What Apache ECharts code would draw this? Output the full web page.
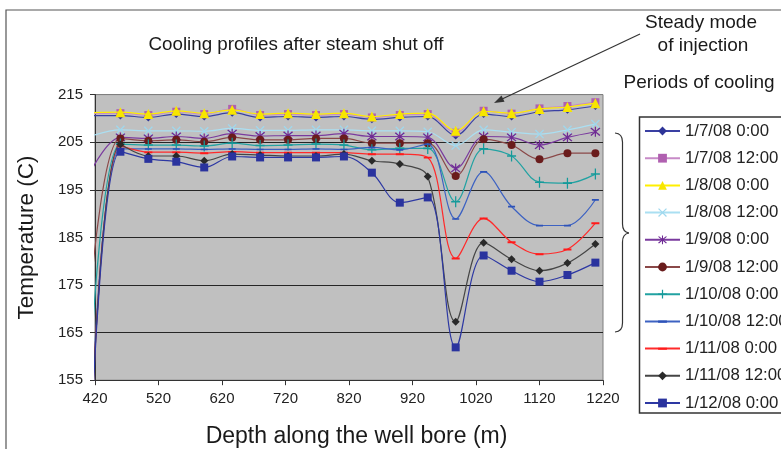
<!DOCTYPE html>
<html>
<head>
<meta charset="utf-8">
<script src="https://cdn.jsdelivr.net/npm/echarts@6/dist/echarts.min.js"></script>
<style>
html,body{margin:0;padding:0;background:#fff;}
#c{width:781px;height:449px;}
</style>
</head>
<body>
<div id="c"></div>
<script>
var depth = [416, 460, 504, 548, 592, 636, 680, 724, 768, 812, 856, 900, 944, 988, 1032, 1076, 1120, 1164, 1208];
var seriesNames = ['1/7/08 0:00','1/7/08 12:00','1/8/08 0:00','1/8/08 12:00','1/9/08 0:00','1/9/08 12:00','1/10/08 0:00','1/10/08 12:00','1/11/08 0:00','1/11/08 12:00','1/12/08 0:00'];
var t_0107_00 = [210.6, 210.6, 210.2, 210.9, 210.4, 211.2, 210.2, 210.4, 210.2, 210.4, 209.8, 210.2, 210.4, 206.4, 210.9, 210.4, 211.4, 211.8, 212.6];
var t_0107_12 = [211.0, 211.1, 210.7, 211.4, 210.9, 212.0, 210.7, 210.9, 210.7, 210.9, 210.2, 210.7, 210.9, 207.0, 211.6, 211.0, 212.1, 212.6, 213.4];
var t_0108_00 = [211.2, 211.3, 210.9, 211.6, 211.1, 211.8, 210.9, 211.1, 210.9, 211.1, 210.4, 210.9, 211.1, 207.4, 211.5, 211.1, 212.0, 212.4, 213.2];
var t_0108_12 = [206.4, 207.6, 207.4, 207.4, 207.3, 207.9, 207.5, 207.5, 207.6, 207.6, 207.4, 207.4, 207.2, 204.3, 207.6, 207.1, 206.7, 207.6, 208.8];
var t_0109_00 = [199.5, 206.0, 205.8, 206.2, 205.8, 206.8, 206.3, 206.4, 206.4, 206.8, 206.2, 206.2, 206.0, 199.5, 206.2, 206.0, 204.4, 206.0, 207.2];
var t_0109_12 = [177.5, 205.8, 205.3, 205.5, 205.1, 206.0, 205.5, 205.5, 205.8, 205.8, 204.8, 204.8, 204.8, 197.9, 205.6, 204.4, 201.4, 202.7, 202.7];
var t_0110_00 = [165.0, 204.6, 204.4, 204.4, 204.2, 204.8, 204.3, 204.4, 204.6, 204.4, 203.4, 203.7, 203.7, 192.5, 203.6, 202.1, 196.6, 196.4, 198.3];
var t_0110_12 = [152.0, 203.6, 203.6, 203.6, 203.5, 203.6, 203.5, 203.5, 203.6, 203.5, 203.9, 203.4, 204.6, 188.9, 198.8, 191.5, 187.5, 187.5, 192.9];
var t_0111_00 = [150.0, 204.2, 202.9, 202.9, 202.7, 203.0, 202.8, 202.8, 202.8, 202.8, 202.5, 202.5, 201.8, 180.6, 189.0, 184.0, 181.5, 182.5, 188.0];
var t_0111_12 = [150.0, 204.5, 202.1, 202.1, 201.1, 202.5, 202.3, 202.1, 202.1, 202.5, 201.1, 200.4, 197.8, 167.3, 183.9, 180.4, 178.0, 179.6, 183.6];
var t_0112_00 = [149.0, 203.0, 201.5, 200.9, 199.7, 202.0, 201.8, 201.8, 201.8, 202.0, 198.6, 192.3, 193.4, 161.9, 181.2, 178.0, 175.7, 177.1, 179.7];
var xTicks = [420, 520, 620, 720, 820, 920, 1020, 1120, 1220];
var yTicks = [155, 165, 175, 185, 195, 205, 215];

var values = [t_0107_00, t_0107_12, t_0108_00, t_0108_12, t_0109_00, t_0109_12, t_0110_00, t_0110_12, t_0111_00, t_0111_12, t_0112_00];

var XSYM = 'path://M1,0L5,4L9,0L10,1L6,5L10,9L9,10L5,6L1,10L0,9L4,5L0,1Z';
var STAR = 'path://M1,0L5,4L9,0L10,1L6,5L10,9L9,10L5,6L1,10L0,9L4,5L0,1Z M4.4,-1L5.6,-1L5.6,11L4.4,11Z';
var PLUS = 'path://M4.3,0H5.7V4.3H10V5.7H5.7V10H4.3V5.7H0V4.3H4.3Z';
var DASH = 'path://M0,0L0.01,0L0,0.01Z M0,4H10V6.4H0Z M10,10L9.99,10L10,9.99Z';

var styles = [
  {line:'#3a40a3', mark:'#2e3598', symbol:'diamond', size:8},
  {line:'#c78ac7', mark:'#b060b0', symbol:'rect', size:8},
  {line:'#ffef00', mark:'#f7e600', symbol:'triangle', size:10},
  {line:'#aadff2', mark:'#9fd8ee', symbol:XSYM, size:9},
  {line:'#7a3a9e', mark:'#6e2a94', symbol:STAR, size:10},
  {line:'#8a4848', mark:'#6a1c1c', symbol:'circle', size:8},
  {line:'#22a2a2', mark:'#159a9a', symbol:PLUS, size:[9,11]},
  {line:'#3d62c2', mark:'#2d52b8', symbol:DASH, size:7},
  {line:'#ff2a2a', mark:'#ff1a1a', symbol:DASH, size:8},
  {line:'#454545', mark:'#2a2a2a', symbol:'diamond', size:8},
  {line:'#2d38a3', mark:'#2a339e', symbol:'rect', size:8}
];

var series = seriesNames.map(function(n, i){
  var s = styles[i];
  return {
    name: n,
    type: 'line',
    data: depth.map(function(d, k){ return [d, values[i][k]]; }),
    smooth: 0.35,
    clip: true,
    symbol: s.symbol,
    symbolSize: s.size,
    showAllSymbol: true,
    lineStyle: {color: s.line, width: 1.2},
    itemStyle: {color: s.mark},
    z: 2 + i
  };
});

var chart = echarts.init(document.getElementById('c'), null, {renderer:'canvas'});
var FONT = 'Liberation Sans, Arial, sans-serif';
var bc = {stroke: '#333', lineWidth: 1.2, fill: 'none'};
chart.setOption({
  animation: false,
  backgroundColor: '#ffffff',
  textStyle: {fontFamily: FONT},
  grid: {left: 95, top: 94.6, width: 508, height: 285.6, show: true,
         backgroundColor: '#c0c0c0', borderColor: '#7f7f7f', borderWidth: 1},
  xAxis: {
    type: 'value', min: 420, max: 1220, interval: 100,
    axisLine: {show: true, onZero: false, lineStyle: {color: '#333', width: 1}},
    axisTick: {show: true, inside: false, length: 5, lineStyle: {color: '#333'}},
    axisLabel: {margin: 11, fontSize: 15, color: '#222', fontFamily: FONT,
      formatter: function(v){ return String(v); }},
    splitLine: {show: false}
  },
  yAxis: {
    type: 'value', min: 155, max: 215, interval: 10,
    axisLine: {show: true, onZero: false, lineStyle: {color: '#333', width: 1}},
    axisTick: {show: true, inside: false, length: 5, lineStyle: {color: '#333'}},
    axisLabel: {margin: 12, fontSize: 15, color: '#222', fontFamily: FONT,
      formatter: function(v){ return String(v); }},
    splitLine: {show: true, lineStyle: {color: ['#333','#262626','#262626','#262626','#262626','#262626','#7f7f7f'], width: 1}}
  },
  legend: {
    orient: 'vertical', left: 639, top: 117.5, padding: 5,
    itemWidth: 35, itemHeight: 11, itemGap: 10.2,
    textStyle: {fontSize: 16.8, color: '#222', fontFamily: FONT, lineHeight: 14},
    data: seriesNames, z: 10, selectedMode: false
  },
  graphic: [
    {type: 'rect', z: -10, silent: true, shape: {x: 6, y: 10, width: 900, height: 600},
     style: {fill: 'none', stroke: '#555', lineWidth: 1.2}},
    {type: 'rect', z: 1, silent: true, shape: {x: 639.5, y: 117, width: 220, height: 296},
     style: {fill: '#ffffff', stroke: '#333', lineWidth: 1.5}},
    {type: 'text', silent: true, x: 296, y: 45,
     style: {text: 'Cooling profiles after steam shut off', font: '18.8px ' + FONT, fill: '#1a1a1a', textAlign: 'center', textVerticalAlign: 'middle'}},
    {type: 'text', silent: true, x: 27, y: 237.5, rotation: Math.PI/2,
     style: {text: 'Temperature (C)', font: '22.5px ' + FONT, fill: '#1a1a1a', textAlign: 'center', textVerticalAlign: 'middle'}},
    {type: 'text', silent: true, x: 356.5, y: 437,
     style: {text: 'Depth along the well bore (m)', font: '23px ' + FONT, fill: '#1a1a1a', textAlign: 'center', textVerticalAlign: 'middle'}},
    {type: 'text', silent: true, x: 701, y: 23,
     style: {text: 'Steady mode', font: '19px ' + FONT, fill: '#1a1a1a', textAlign: 'center', textVerticalAlign: 'middle'}},
    {type: 'text', silent: true, x: 703, y: 46,
     style: {text: 'of injection', font: '19px ' + FONT, fill: '#1a1a1a', textAlign: 'center', textVerticalAlign: 'middle'}},
    {type: 'text', silent: true, x: 699, y: 83,
     style: {text: 'Periods of cooling', font: '19px ' + FONT, fill: '#1a1a1a', textAlign: 'center', textVerticalAlign: 'middle'}},
    {type: 'line', silent: true, z: 20, shape: {x1: 640, y1: 34, x2: 500, y2: 100},
     style: {stroke: '#333', lineWidth: 1.2}},
    {type: 'polygon', silent: true, z: 20, shape: {points: [[494, 103], [501.5, 95.5], [504.5, 101.8]]},
     style: {fill: '#333'}},
    {type: 'bezierCurve', silent: true, z: 20, shape: {x1: 615, y1: 133, cpx1: 622.5, cpy1: 133.5, x2: 622.5, y2: 142}, style: bc},
    {type: 'line', silent: true, z: 20, shape: {x1: 622.5, y1: 142, x2: 622.5, y2: 224}, style: bc},
    {type: 'bezierCurve', silent: true, z: 20, shape: {x1: 622.5, y1: 224, cpx1: 622.5, cpy1: 232, x2: 629, y2: 233}, style: bc},
    {type: 'bezierCurve', silent: true, z: 20, shape: {x1: 629, y1: 233, cpx1: 622.5, cpy1: 234, x2: 622.5, y2: 242}, style: bc},
    {type: 'line', silent: true, z: 20, shape: {x1: 622.5, y1: 242, x2: 622.5, y2: 323}, style: bc},
    {type: 'bezierCurve', silent: true, z: 20, shape: {x1: 622.5, y1: 323, cpx1: 622.5, cpy1: 331.5, x2: 615, y2: 332}, style: bc}
  ],
  series: series
});
</script>
</body>
</html>
